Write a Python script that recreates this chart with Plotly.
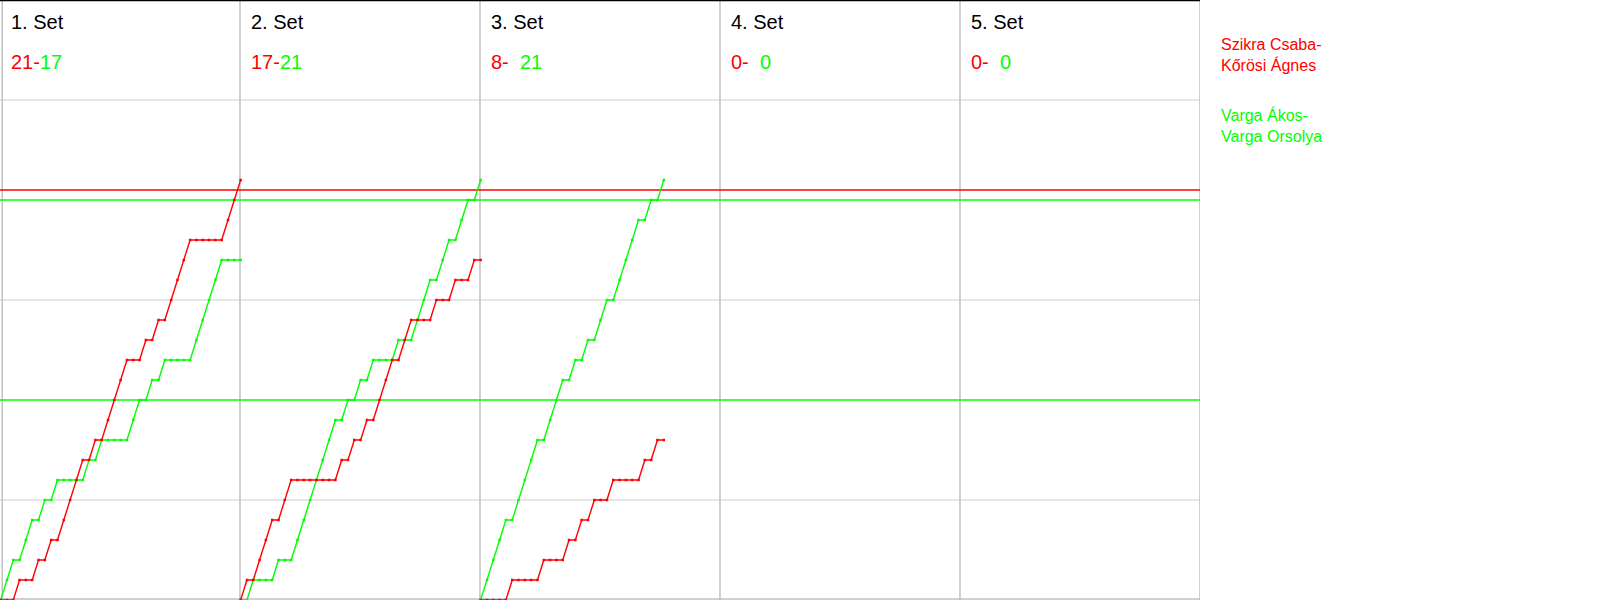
import plotly.graph_objects as go

# ---- data ----
set_labels = ["1. Set", "2. Set", "3. Set", "4. Set", "5. Set"]
final_red = ["21", "17", "8", "0", "0"]
final_green = ["17", "21", "21", "0", "0"]
team_red = "Szikra Csaba-<br>Kőrösi Ágnes"
team_green = "Varga Ákos-<br>Varga Orsolya"

# running score after each rally (index 0 = start of set)
set1_red = [0, 0, 0, 1, 1, 1, 2, 2, 3, 3, 4, 5, 6, 7, 7, 8, 8, 9, 10, 11, 12,
            12, 12, 13, 13, 14, 14, 15, 16, 17, 18, 18, 18, 18, 18, 18, 19, 20, 21]
set1_green = [0, 1, 2, 2, 3, 4, 4, 5, 5, 6, 6, 6, 6, 6, 7, 7, 8, 8, 8, 8, 8,
              9, 10, 10, 11, 11, 12, 12, 12, 12, 12, 13, 14, 15, 16, 17, 17, 17, 17]
set2_red = [0, 1, 1, 2, 3, 4, 4, 5, 6, 6, 6, 6, 6, 6, 6, 6, 7, 7, 8, 8, 9,
            9, 10, 11, 12, 12, 13, 14, 14, 14, 14, 15, 15, 15, 16, 16, 16, 17, 17]
set2_green = [0, 0, 1, 1, 1, 1, 2, 2, 2, 3, 4, 5, 6, 7, 8, 9, 9, 10, 10, 11, 11,
              12, 12, 12, 12, 13, 13, 13, 14, 15, 16, 16, 17, 18, 18, 19, 20, 20, 21]
set3_red = [0, 0, 0, 0, 0, 1, 1, 1, 1, 1, 2, 2, 2, 2, 3, 3, 4, 4, 5, 5, 5,
            6, 6, 6, 6, 6, 7, 7, 8, 8]
set3_green = [0, 1, 2, 3, 4, 4, 5, 6, 7, 8, 8, 9, 10, 11, 11, 12, 12, 13, 13, 14, 15,
              15, 16, 17, 18, 19, 19, 20, 20, 21]

sets_red = [set1_red, set2_red, set3_red]
sets_green = [set1_green, set2_green, set3_green]

RALLIES_PER_PANEL = 38
N_PANELS = 5
RED = "#ff0000"
GREEN = "#00ff00"
FONT = "Liberation Sans, Arial, sans-serif"

W, H = 1600, 600
PLOT_W = 1200

fig = go.Figure()

for k, (r, g) in enumerate(zip(sets_red, sets_green)):
    off = RALLIES_PER_PANEL * k + 0.1
    for ys, col in ((g, GREEN), (r, RED)):
        xs = [off + i for i in range(len(ys))]
        fig.add_trace(go.Scatter(
            x=xs, y=ys, mode="lines+markers",
            line=dict(color=col, width=1.4),
            marker=dict(color=col, size=2.5, symbol="square"),
            hoverinfo="skip", showlegend=False, cliponaxis=False,
        ))

shapes = []
x_max = RALLIES_PER_PANEL * N_PANELS
# horizontal gray grid
for yv in (5, 15, 25):
    shapes.append(dict(type="line", xref="x", yref="y", x0=0, x1=x_max, y0=yv, y1=yv,
                       line=dict(color="#d0d0d0", width=1.2), layer="below"))
shapes.append(dict(type="line", xref="x", yref="y", x0=0, x1=x_max, y0=0.05, y1=0.05,
                   line=dict(color="#c0c0c0", width=1.5), layer="below"))
# vertical panel lines
for k in range(N_PANELS + 1):
    xv = RALLIES_PER_PANEL * k if k > 0 else 0.35
    shapes.append(dict(type="line", xref="x", yref="y", x0=xv, x1=xv, y0=0, y1=30,
                       line=dict(color="#bdbdbd", width=1.4), layer="below"))
# colored reference lines
shapes.append(dict(type="line", xref="x", yref="y", x0=0, x1=x_max, y0=10, y1=10,
                   line=dict(color=GREEN, width=1.3), layer="below"))
shapes.append(dict(type="line", xref="x", yref="y", x0=0, x1=x_max, y0=20, y1=20,
                   line=dict(color=GREEN, width=1.3), layer="below"))
shapes.append(dict(type="line", xref="x", yref="y", x0=0, x1=x_max, y0=20.5, y1=20.5,
                   line=dict(color=RED, width=1.3), layer="below"))
# top black border
shapes.append(dict(type="line", xref="x", yref="y", x0=0, x1=x_max, y0=30, y1=30,
                   line=dict(color="#000000", width=2.5), layer="above"))

annotations = []
panel_px = PLOT_W / N_PANELS
for k in range(N_PANELS):
    x0 = k * panel_px + 10
    annotations.append(dict(text=set_labels[k], xref="paper", yref="paper",
                            x=x0 / W, y=1 - 22 / H, xanchor="left", yanchor="middle",
                            showarrow=False, borderpad=0,
                            font=dict(family=FONT, size=20, color="#000000")))
    annotations.append(dict(text=final_red[k] + "-", xref="paper", yref="paper",
                            x=x0 / W, y=1 - 62 / H, xanchor="left", yanchor="middle",
                            showarrow=False, borderpad=0,
                            font=dict(family=FONT, size=20, color=RED)))
    annotations.append(dict(text=final_green[k], xref="paper", yref="paper",
                            x=(x0 + 29) / W, y=1 - 62 / H, xanchor="left", yanchor="middle",
                            showarrow=False, borderpad=0,
                            font=dict(family=FONT, size=20, color=GREEN)))

annotations.append(dict(text=team_red, xref="paper", yref="paper",
                        x=1220 / W, y=1 - 55 / H, xanchor="left", yanchor="middle",
                        align="left", showarrow=False, borderpad=0,
                        font=dict(family=FONT, size=16, color=RED)))
annotations.append(dict(text=team_green, xref="paper", yref="paper",
                        x=1220 / W, y=1 - 125 / H, xanchor="left", yanchor="middle",
                        align="left", showarrow=False, borderpad=0,
                        font=dict(family=FONT, size=16, color=GREEN)))

fig.update_layout(
    width=W, height=H,
    margin=dict(l=0, r=0, t=0, b=0),
    paper_bgcolor="#ffffff", plot_bgcolor="#ffffff",
    xaxis=dict(domain=[0, PLOT_W / W], range=[0, x_max], visible=False, fixedrange=True),
    yaxis=dict(domain=[0, 1], range=[0, 30], visible=False, fixedrange=True),
    shapes=shapes, annotations=annotations,
    showlegend=False,
)

fig.write_html("out.html", config={"displayModeBar": False},
               post_script="document.body.style.margin='0';document.body.style.overflow='hidden';")
